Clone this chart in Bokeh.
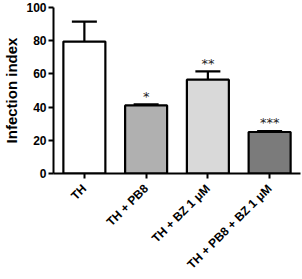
import math
from bokeh.plotting import figure
from bokeh.models import ColumnDataSource, Whisker, TeeHead, FactorRange
from bokeh.core.properties import value
from bokeh.embed import file_html
from bokeh.resources import INLINE

groups = ["TH", "TH + PB8", "TH + BZ 1 \u03bcM", "TH + PB8 + BZ 1 \u03bcM"]
means = [79.5, 41.0, 56.5, 25.0]
errors = [12.0, 0.6, 5.0, 0.6]
stars = ["", "*", "**", "***"]
colors = ["#ffffff", "#b0b0b0", "#d9d9d9", "#7b7b7b"]

upper = [m + e for m, e in zip(means, errors)]
star_y = [u + 0.5 for u in upper]

src = ColumnDataSource(dict(x=groups, top=means, upper=upper, lower=means,
                            color=colors, stars=stars, star_y=star_y))

p = figure(width=302, height=279, x_range=FactorRange(*groups), y_range=(0, 100),
           output_backend="svg", toolbar_location=None,
           min_border_left=46, min_border_right=2, min_border_top=7, min_border_bottom=100)
p.outline_line_color = None
p.grid.visible = False
p.background_fill_color = "white"

p.vbar(x="x", top="top", width=0.68, bottom=0, source=src, fill_color="color",
       line_color="black", line_width=2.2)

w = Whisker(base="x", upper="upper", lower="lower", source=src,
            line_color="black", line_width=2.2,
            upper_head=TeeHead(size=25, line_color="black", line_width=2.2),
            lower_head=None)
p.add_layout(w)

p.text(x="x", y="star_y", text="stars", source=src, text_align="center",
       text_baseline="bottom", text_font=value("DejaVu Sans"),
       text_font_size="13px", text_color="#222222")

p.yaxis.axis_label = "Infection index"
p.yaxis.axis_label_text_font = "Liberation Sans"
p.yaxis.axis_label_text_font_style = "bold"
p.yaxis.axis_label_text_font_size = "15px"
p.yaxis.axis_label_text_color = "black"
p.yaxis.axis_label_standoff = 3
p.yaxis.ticker = [0, 20, 40, 60, 80, 100]
p.yaxis.minor_tick_line_color = None

for ax in (p.xaxis[0], p.yaxis[0]):
    ax.axis_line_width = 2
    ax.axis_line_color = "black"
    ax.major_tick_line_color = "black"
    ax.major_tick_line_width = 2
    ax.major_tick_out = 5
    ax.major_tick_in = 0
    ax.major_label_text_font = "Liberation Sans"
    ax.major_label_text_font_style = "bold"
    ax.major_label_text_font_size = "12px"
    ax.major_label_text_color = "black"
    ax.major_label_standoff = 2

p.xaxis.major_label_orientation = math.pi / 4
p.xaxis.major_label_text_font_size = "12px"
p.xaxis.major_label_standoff = 8

open("out.html", "w").write(file_html(p, INLINE))
